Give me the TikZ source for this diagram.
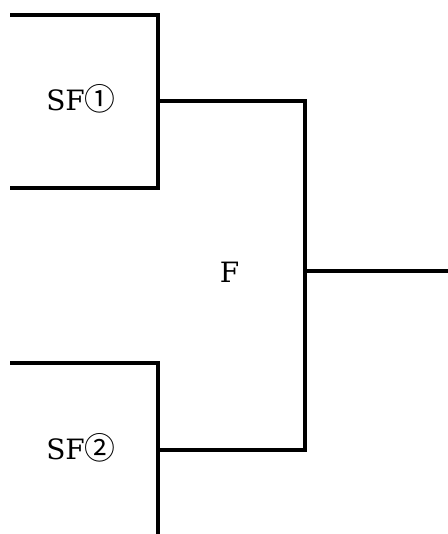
\documentclass[tikz,border=0pt]{standalone}
\usepackage{fontspec}
\setmainfont{DejaVu Serif}
\newfontfamily\circfont[Scale=1.1]{Noto Sans CJK JP}
\begin{document}
\begin{tikzpicture}[x=0.75pt, y=-0.75pt, line width=2.6pt,
  lbl/.style={inner sep=0pt, font=\fontsize{21}{24}\selectfont}]
\useasboundingbox (0,0) rectangle (448,534);
% semi final 1
\coordinate (sf1a) at (10,15);
\coordinate (sf1b) at (158,15);
\coordinate (sf1c) at (158,188);
\coordinate (sf1d) at (10,188);
\coordinate (sf1m) at (158,101);
\node[lbl] (sf1) at (81,99) {SF{\circfont ①}};
% semi final 2
\coordinate (sf2a) at (10,363);
\coordinate (sf2b) at (158,363);
\coordinate (sf2c) at (158,534);
\coordinate (sf2m) at (158,450);
\node[lbl] (sf2) at (81,448) {SF{\circfont ②}};
% final
\coordinate (f1) at (305,101);
\coordinate (f2) at (305,450);
\coordinate (fm) at (305,271);
\coordinate (win) at (448,271);
\node[lbl] (fin) at (229.5,272) {F};
\draw[](sf1a) -- (sf1b) -- (sf1c) -- (sf1d);
\draw[](sf2a) -- (sf2b) -- (sf2c);
\draw[](sf1m) -- (f1) -- (f2) -- (sf2m);
\draw[](fm) -- (win);
\end{tikzpicture}
\end{document}
